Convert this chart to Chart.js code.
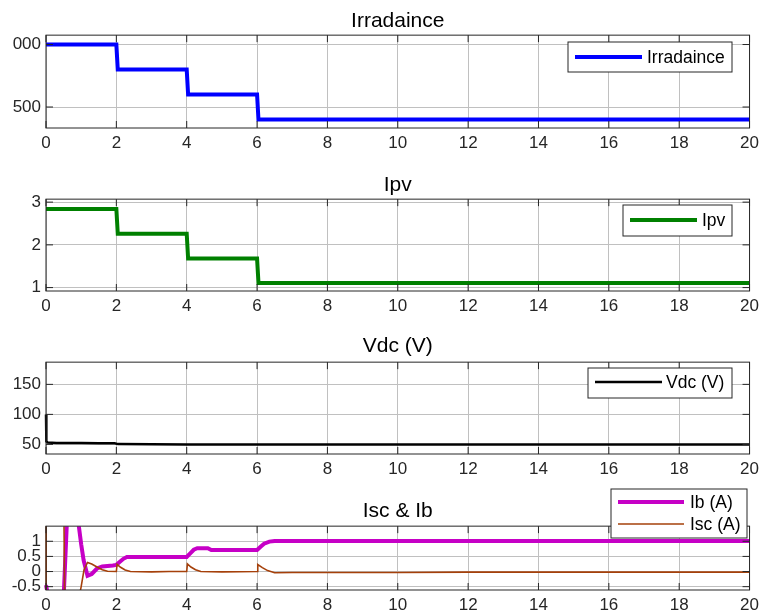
<!DOCTYPE html>
<html><head><meta charset="utf-8">
<script src="https://cdn.jsdelivr.net/npm/chart.js@4.4.1/dist/chart.umd.min.js"></script>
<style>
html,body{margin:0;padding:0;background:#fff;}
#wrap{position:relative;width:764px;height:615px;overflow:hidden;background:#fff;}
canvas{position:absolute;left:0;top:0;}
</style></head><body>
<div id="wrap">
<canvas id="c1" width="764" height="615"></canvas>
<canvas id="c2" width="764" height="615"></canvas>
<canvas id="c3" width="764" height="615"></canvas>
<canvas id="c4" width="764" height="615"></canvas>
</div>
<script>
// ---- data ----
const xTicks = [0, 2, 4, 6, 8, 10, 12, 14, 16, 18, 20];
const xTickLabels = ['0', '2', '4', '6', '8', '10', '12', '14', '16', '18', '20'];

const irrT = [0, 2, 2.04, 4, 4.04, 6, 6.04, 20];
const irrV = [1000, 1000, 800, 800, 600, 600, 400, 400];
const irrTicks = [500, 1000];
const irrTickLabels = ['500', '000'];

const ipvT = [0, 2, 2.04, 4, 4.04, 6, 6.04, 20];
const ipvV = [2.84, 2.84, 2.26, 2.26, 1.68, 1.68, 1.11, 1.11];
const ipvTicks = [1, 2, 3];
const ipvTickLabels = ['1', '2', '3'];

const vdcT = [0, 0.01, 0.05, 0.3, 1, 1.5, 1.95, 2.05, 3, 4, 6, 8, 12, 16, 20];
const vdcV = [100, 55, 53, 52.5, 52.3, 52.1, 52, 50.5, 50.2, 50, 49.8, 49.8, 49.8, 49.8, 49.8];
const vdcTicks = [50, 100, 150];
const vdcTickLabels = ['50', '100', '150'];

const ibT = [0, 0.08, 0.5, 0.6, 0.9, 1.0, 1.07, 1.18, 1.3, 1.45, 1.6, 1.9, 2.0, 2.1, 2.2, 2.3, 4.0, 4.1, 4.2, 4.3, 4.6, 4.7, 6.0, 6.1, 6.2, 6.35, 6.5, 10, 20];
const ibV = [-0.45, -0.9, -0.9, 1.8, 1.8, 0.9, 0.37, -0.14, -0.08, 0.1, 0.17, 0.2, 0.22, 0.32, 0.42, 0.48, 0.48, 0.6, 0.72, 0.77, 0.77, 0.71, 0.71, 0.82, 0.92, 0.99, 1.01, 1.01, 1.01];
const iscT = [0, 0.005, 0.51, 0.53, 0.93, 1.0, 1.08, 1.18, 1.3, 1.45, 1.6, 1.75, 2.0, 2.02, 2.12, 2.25, 2.4, 3.0, 3.5, 4.0, 4.02, 4.12, 4.25, 4.4, 5.0, 6.0, 6.02, 6.15, 6.3, 6.5, 7, 8, 10, 12, 14, 16, 18, 20];
const iscV = [-0.9, 1.8, 1.8, -0.9, -0.9, -0.5, 0.05, 0.3, 0.25, 0.15, 0.06, 0.01, 0, 0.24, 0.14, 0.05, 0, -0.01, 0, 0, 0.25, 0.15, 0.06, 0, -0.01, 0, 0.23, 0.13, 0.03, -0.04, -0.03, -0.03, -0.03, -0.02, -0.02, -0.02, -0.02, -0.02];
const iTicks = [-0.5, 0, 0.5, 1];
const iTickLabels = ['-0.5', '0', '0.5', '1'];

// ---- styling / helpers ----
const FONT = "'Liberation Sans', Arial, Helvetica, sans-serif";
Chart.defaults.font.family = FONT;
Chart.defaults.animation = false;

const pts = (t, v) => t.map((x, i) => ({x: x, y: v[i]}));

const framePlugin = {
  id: 'frame',
  afterDatasetsDraw(chart) {
    const {ctx, chartArea: a, scales: {x, y}} = chart;
    ctx.save();
    ctx.strokeStyle = '#262626';
    ctx.lineWidth = 1;
    ctx.strokeRect(a.left, a.top, a.right - a.left, a.bottom - a.top);
    ctx.beginPath();
    const L = 7;
    x.ticks.forEach(t => {
      const p = x.getPixelForValue(t.value);
      ctx.moveTo(p, a.bottom); ctx.lineTo(p, a.bottom - L);
      ctx.moveTo(p, a.top); ctx.lineTo(p, a.top + L);
    });
    y.ticks.forEach(t => {
      const p = y.getPixelForValue(t.value);
      ctx.moveTo(a.left, p); ctx.lineTo(a.left + L, p);
      ctx.moveTo(a.right, p); ctx.lineTo(a.right - L, p);
    });
    ctx.stroke();
    ctx.restore();
  }
};

const boxLegend = {
  id: 'boxLegend',
  afterDraw(chart, args, o) {
    if (!o || !o.box) return;
    const ctx = chart.ctx;
    const [x0, y0, x1, y1] = o.box;
    ctx.save();
    ctx.fillStyle = '#fff';
    ctx.fillRect(x0, y0, x1 - x0, y1 - y0);
    ctx.strokeStyle = '#262626';
    ctx.lineWidth = 1;
    ctx.strokeRect(x0, y0, x1 - x0, y1 - y0);
    chart.data.datasets.forEach((ds, i) => {
      const yy = o.rows[i];
      ctx.strokeStyle = ds.borderColor;
      ctx.lineWidth = ds.borderWidth;
      ctx.beginPath();
      ctx.moveTo(o.lx0, yy); ctx.lineTo(o.lx1, yy);
      ctx.stroke();
      ctx.fillStyle = '#000';
      ctx.font = '17.5px ' + FONT;
      ctx.textBaseline = 'middle';
      ctx.textAlign = 'left';
      ctx.fillText(ds.label, o.tx, yy + 1);
    });
    ctx.restore();
  }
};

function makeChart(id, opt) {
  const tickFont = {size: 17, family: FONT};
  new Chart(document.getElementById(id), {
    type: 'scatter',
    data: {datasets: opt.datasets.map(d => Object.assign({
      showLine: true, pointRadius: 0, pointHoverRadius: 0, tension: 0,
      clip: {left: 3, right: 3, top: 0, bottom: 0}
    }, d))},
    options: {
      responsive: false,
      animation: false,
      events: [],
      layout: {padding: {left: 0, right: 14, top: opt.top, bottom: opt.bottom}},
      plugins: {
        legend: {display: false},
        tooltip: {enabled: false},
        title: {
          display: true, text: opt.title, fullSize: false, color: '#000',
          font: {size: 21, weight: 'normal', family: FONT, lineHeight: 1.15},
          padding: {top: 0, bottom: opt.titleGap}
        },
        boxLegend: opt.legend
      },
      scales: {
        x: {
          type: 'linear', min: 0, max: 20,
          afterBuildTicks: s => { s.ticks = xTicks.map(v => ({value: v})); },
          afterFit: s => { s.height = 24; },
          ticks: {callback: v => xTickLabels[xTicks.indexOf(v)], font: tickFont, color: '#262626', padding: 5, maxRotation: 0, autoSkip: false},
          grid: {color: '#c0c0c0', lineWidth: 1, drawTicks: false},
          border: {display: false}
        },
        y: {
          type: 'linear', min: opt.ymin, max: opt.ymax,
          afterBuildTicks: s => { s.ticks = opt.yTicks.map(v => ({value: v})); },
          afterFit: s => { s.width = 46; },
          ticks: {callback: v => opt.yTickLabels[opt.yTicks.indexOf(v)], font: tickFont, color: '#262626', padding: 5, autoSkip: false},
          grid: {color: '#c0c0c0', lineWidth: 1, drawTicks: false},
          border: {display: false}
        }
      }
    },
    plugins: [framePlugin, boxLegend]
  });
}

makeChart('c1', {
  title: 'Irradaince', top: 9, titleGap: 2, bottom: 463,
  ymin: 332, ymax: 1075, yTicks: irrTicks, yTickLabels: irrTickLabels,
  datasets: [{label: 'Irradaince', data: pts(irrT, irrV), borderColor: '#0000ff', borderWidth: 4}],
  legend: {box: [568, 42, 732, 72], lx0: 575, lx1: 642, tx: 647, rows: [57]}
});
makeChart('c2', {
  title: 'Ipv', top: 173, titleGap: 2, bottom: 300,
  ymin: 0.92, ymax: 3.07, yTicks: ipvTicks, yTickLabels: ipvTickLabels,
  datasets: [{label: 'Ipv', data: pts(ipvT, ipvV), borderColor: '#008000', borderWidth: 4}],
  legend: {box: [623, 205, 732, 236], lx0: 630, lx1: 697, tx: 702, rows: [220]}
});
makeChart('c3', {
  title: 'Vdc (V)', top: 334, titleGap: 4, bottom: 137,
  ymin: 34, ymax: 187, yTicks: vdcTicks, yTickLabels: vdcTickLabels,
  datasets: [{label: 'Vdc (V)', data: pts(vdcT, vdcV), borderColor: '#000000', borderWidth: 2.5}],
  legend: {box: [588, 368, 732, 398], lx0: 595, lx1: 662, tx: 666, rows: [382]}
});
makeChart('c4', {
  title: 'Isc & Ib', top: 499, titleGap: 3, bottom: 1,
  ymin: -0.61, ymax: 1.5, yTicks: iTicks, yTickLabels: iTickLabels,
  datasets: [
    {label: 'Ib (A)', data: pts(ibT, ibV), borderColor: '#c600c6', borderWidth: 4, order: 1},
    {label: 'Isc (A)', data: pts(iscT, iscV), borderColor: '#a5400a', borderWidth: 1.6, order: 0}
  ],
  legend: {box: [611, 489, 747, 538], lx0: 618, lx1: 684, tx: 690, rows: [502, 524]}
});
</script>
</body></html>
